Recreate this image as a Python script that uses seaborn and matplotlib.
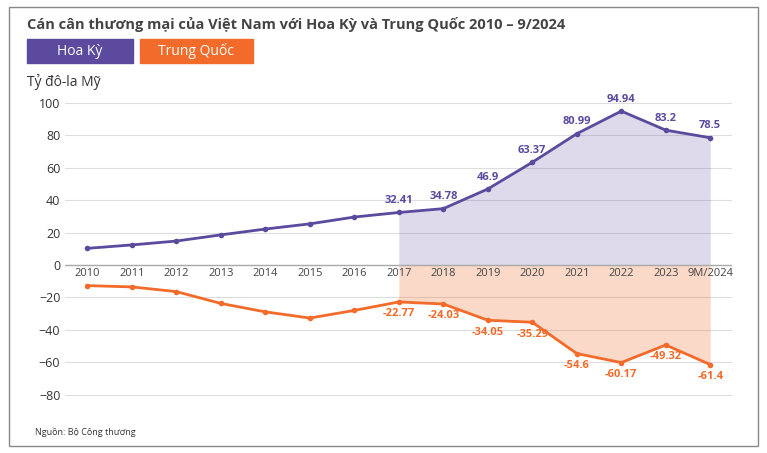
import numpy as np
import seaborn as sns
import matplotlib.pyplot as plt
from matplotlib.patches import Rectangle

YEARS = ['2010', '2011', '2012', '2013', '2014', '2015', '2016', '2017',
         '2018', '2019', '2020', '2021', '2022', '2023', '9M/2024']
US = [10.3, 12.4, 14.8, 18.6, 22.2, 25.4, 29.6, 32.41, 34.78, 46.9, 63.37, 80.99, 94.94, 83.2, 78.5]
CN = [-12.7, -13.5, -16.4, -23.7, -28.9, -32.7, -28.0, -22.77, -24.03, -34.05, -35.29, -54.6, -60.17, -49.32, -61.4]
LABEL_FROM = 7

PURPLE = '#5B4A9E'
ORANGE = '#F26B2A'

sns.set_style('white')
plt.rcParams['font.family'] = ['Open Sans', 'DejaVu Sans']

fig = plt.figure(figsize=(7.67, 4.53), dpi=100)
ax = fig.add_axes([0.085, 0.10, 0.87, 0.68])
x = np.arange(len(YEARS))

ax.fill_between(x[LABEL_FROM:], 0, US[LABEL_FROM:], color=PURPLE, alpha=0.2, lw=0)
ax.fill_between(x[LABEL_FROM:], 0, CN[LABEL_FROM:], color=ORANGE, alpha=0.25, lw=0)
sns.lineplot(x=x, y=US, ax=ax, color=PURPLE, lw=2, marker='o', markersize=4, markeredgewidth=0)
sns.lineplot(x=x, y=CN, ax=ax, color=ORANGE, lw=2, marker='o', markersize=4, markeredgewidth=0)

for i in range(LABEL_FROM, len(YEARS)):
    ax.text(x[i], US[i] + 4, f'{US[i]:g}', ha='center', va='bottom', fontsize=8, color=PURPLE, fontweight='bold')
    ax.text(x[i], CN[i] - 4, f'{CN[i]:g}', ha='center', va='top', fontsize=8, color=ORANGE, fontweight='bold')

for i, yr in enumerate(YEARS):
    ax.text(x[i], -2, yr, ha='center', va='top', fontsize=8, color='#444444')

ax.set_xlim(-0.5, len(YEARS) - 0.5)
ax.set_ylim(-88, 102)
ax.set_yticks(range(-80, 101, 20))
ax.set_xticks([])
ax.tick_params(axis='y', labelsize=9, colors='#333333', length=0)
ax.grid(axis='y', color='#dddddd', lw=0.8)
ax.axhline(0, color='#aaaaaa', lw=1)
for s in ax.spines.values():
    s.set_visible(False)

fig.patches.append(Rectangle((0.012, 0.015), 0.976, 0.97, transform=fig.transFigure,
                             fill=False, ec='#888888', lw=1))
fig.text(0.035, 0.945, 'Cán cân thương mại của Việt Nam với Hoa Kỳ và Trung Quốc 2010 – 9/2024',
         fontsize=10.5, fontweight='bold', color='#444444', va='center')
fig.patches.append(Rectangle((0.035, 0.86), 0.138, 0.055, transform=fig.transFigure, color=PURPLE))
fig.text(0.104, 0.887, 'Hoa Kỳ', color='white', fontsize=10, ha='center', va='center')
fig.patches.append(Rectangle((0.182, 0.86), 0.148, 0.055, transform=fig.transFigure, color=ORANGE))
fig.text(0.256, 0.887, 'Trung Quốc', color='white', fontsize=10, ha='center', va='center')
fig.text(0.035, 0.82, 'Tỷ đô-la Mỹ', fontsize=10, color='#333333', va='center')
fig.text(0.045, 0.045, 'Nguồn: Bộ Công thương', fontsize=6.5, color='#333333', va='center')

fig.savefig('out.png', dpi=100)
